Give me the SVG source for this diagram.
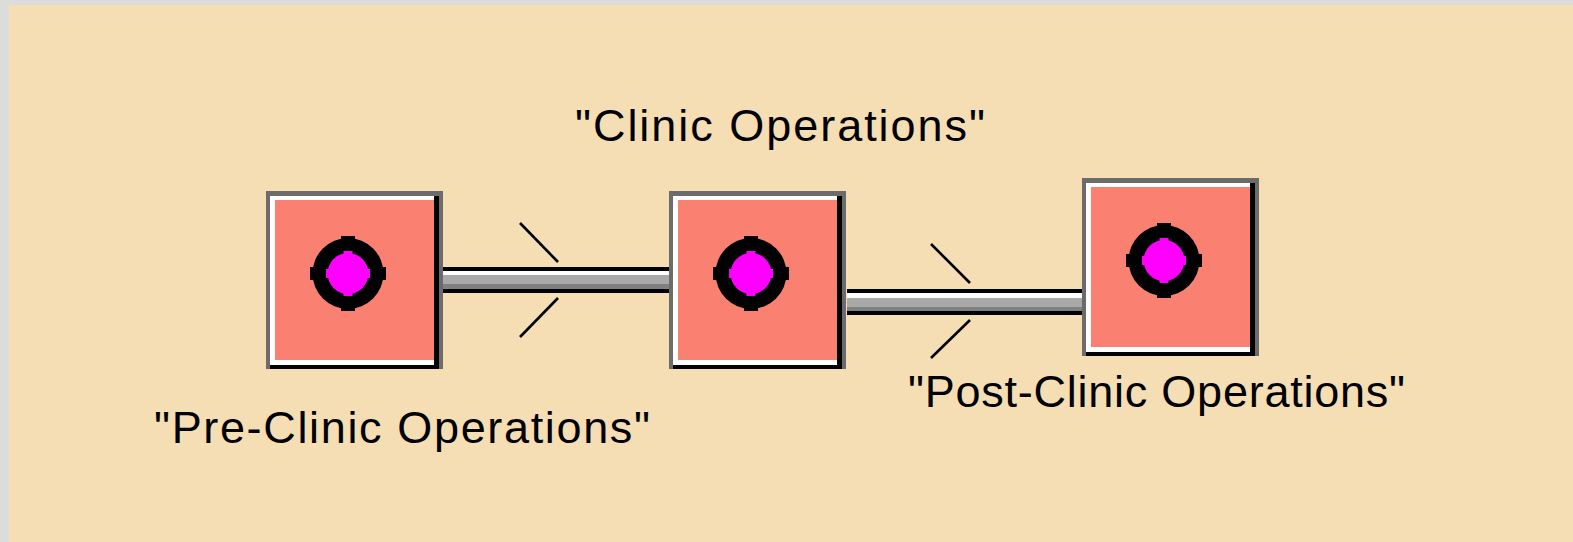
<svg xmlns="http://www.w3.org/2000/svg" xmlns:xlink="http://www.w3.org/1999/xlink" width="1573" height="542" viewBox="0 0 1573 542">
  <style>
    .lbl { font-family: "Liberation Sans", Arial, sans-serif; font-size: 45px; fill: #000; }
    .slash { stroke: #000; stroke-width: 2.6; }
  </style>
  <defs>
    <g id="nodeShape">
      <rect x="0" y="0" width="177" height="178" fill="#6b6b6b" shape-rendering="crispEdges"/>
      <rect x="4" y="5" width="169" height="173" fill="#000" shape-rendering="crispEdges"/>
      <rect x="4" y="5" width="164" height="169" fill="#fff" shape-rendering="crispEdges"/>
      <rect x="9" y="9" width="159" height="160" fill="#fa8072" shape-rendering="crispEdges"/>
      <g transform="translate(82,82.5)">
        <circle r="35.5" fill="#000"/>
        <rect x="-7" y="-37.5" width="14" height="6" fill="#000"/>
        <rect x="-7" y="31.5" width="14" height="6" fill="#000"/>
        <rect x="-38" y="-6.5" width="6" height="13" fill="#000"/>
        <rect x="32" y="-6.5" width="6" height="13" fill="#000"/>
        <circle r="20.5" fill="#ff00ff"/>
        <rect x="-4.5" y="-22.5" width="9" height="4" fill="#ff00ff"/>
        <rect x="-4.5" y="18.5" width="9" height="4" fill="#ff00ff"/>
        <rect x="-22" y="-4.5" width="4" height="9" fill="#ff00ff"/>
        <rect x="18" y="-4.5" width="4" height="9" fill="#ff00ff"/>
      </g>
    </g>
  </defs>

  <rect x="0" y="0" width="1573" height="542" fill="#dcdcdc"/>
  <rect x="9" y="5" width="1564" height="537" fill="#f5deb3"/>

  <g id="connectors" shape-rendering="crispEdges">
    <g id="conn1">
      <rect x="439" y="267" width="230" height="26" fill="#000"/>
      <rect x="439" y="271" width="230" height="4" fill="#fff"/>
      <rect x="439" y="275" width="230" height="9" fill="#a9a9a9"/>
      <rect x="439" y="284" width="230" height="5" fill="#808080"/>
      <line class="slash" x1="520" y1="223" x2="558" y2="262" shape-rendering="auto"/>
      <line class="slash" x1="558" y1="298" x2="520" y2="337" shape-rendering="auto"/>
    </g>
    <g id="conn2">
      <rect x="847" y="289" width="235" height="26" fill="#000"/>
      <rect x="847" y="293" width="235" height="5" fill="#fff"/>
      <rect x="847" y="298" width="235" height="9" fill="#a9a9a9"/>
      <rect x="847" y="307" width="235" height="4" fill="#808080"/>
      <line class="slash" x1="931" y1="244" x2="970" y2="283" shape-rendering="auto"/>
      <line class="slash" x1="970" y1="320" x2="931" y2="358" shape-rendering="auto"/>
    </g>
  </g>

  <g id="node-pre-clinic">
    <use xlink:href="#nodeShape" href="#nodeShape" x="266" y="191"/>
    <text class="lbl" x="154" y="443" textLength="496" lengthAdjust="spacing">"Pre-Clinic Operations"</text>
  </g>
  <g id="node-clinic">
    <use xlink:href="#nodeShape" href="#nodeShape" x="669" y="191"/>
    <text class="lbl" x="575" y="141" textLength="410" lengthAdjust="spacing">"Clinic Operations"</text>
  </g>
  <g id="node-post-clinic">
    <use xlink:href="#nodeShape" href="#nodeShape" x="1082" y="178"/>
    <text class="lbl" x="908" y="407" textLength="497" lengthAdjust="spacing">"Post-Clinic Operations"</text>
  </g>
</svg>
